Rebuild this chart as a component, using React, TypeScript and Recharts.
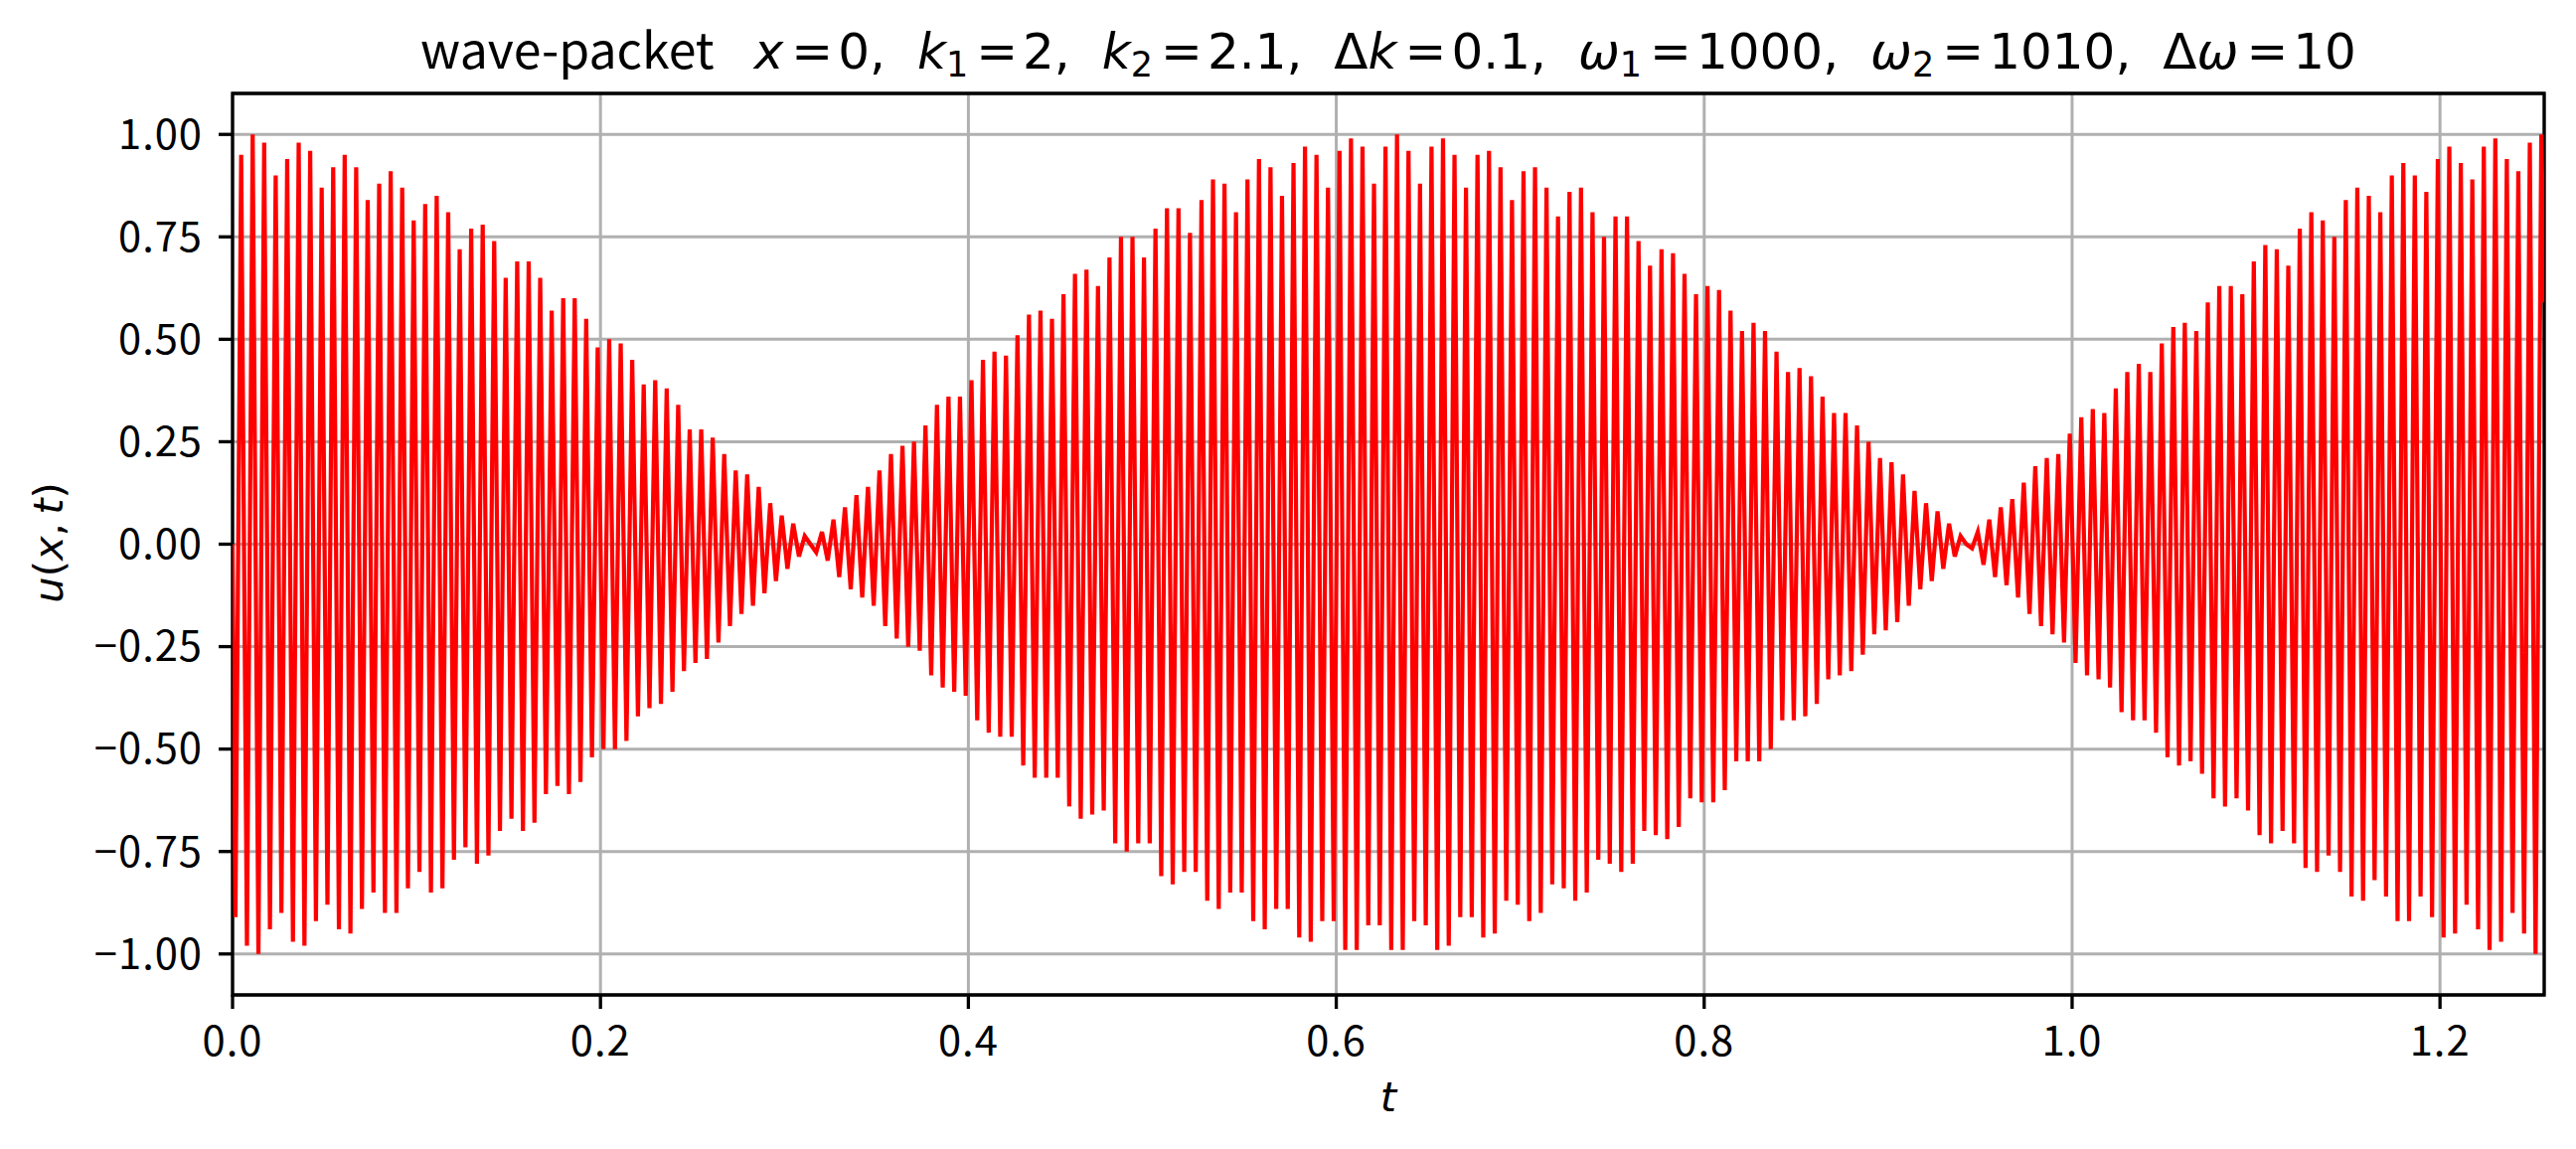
import { LineChart, Line, XAxis, YAxis, CartesianGrid, ReferenceArea } from 'recharts';

// Lobe 1: from t = 0 up to the first node (t ≈ 0.314)
const firstLobe = [
  -0.91, 0.95, -0.98, 1.0, -1.0, 0.98, -0.94, 0.9,
  -0.9, 0.94, -0.97, 0.98, -0.98, 0.96, -0.92, 0.87,
  -0.88, 0.92, -0.94, 0.95, -0.95, 0.92, -0.89, 0.84,
  -0.85, 0.88, -0.9, 0.91, -0.9, 0.87, -0.84, 0.79,
  -0.8, 0.83, -0.85, 0.85, -0.84, 0.81, -0.77, 0.72,
  -0.74, 0.77, -0.78, 0.78, -0.76, 0.74, -0.7, 0.65,
  -0.67, 0.69, -0.7, 0.69, -0.68, 0.65, -0.61, 0.57,
  -0.59, 0.6, -0.61, 0.6, -0.58, 0.55, -0.52, 0.48,
  -0.5, 0.5, -0.5, 0.49, -0.48, 0.45, -0.42, 0.39,
  -0.4, 0.4, -0.39, 0.38, -0.36, 0.34, -0.31, 0.28,
  -0.29, 0.28, -0.28, 0.26, -0.24, 0.22, -0.2, 0.18,
  -0.17, 0.17, -0.15, 0.14, -0.12, 0.1, -0.09, 0.07,
  -0.06, 0.05, -0.03, 0.02,
];

// Lobe 2: between the two nodes (t ≈ 0.314 .. 0.942)
const secondLobe = [
  0.0, -0.02, 0.03, -0.04,
  0.06, -0.08, 0.09, -0.11, 0.12, -0.13, 0.14, -0.15,
  0.18, -0.2, 0.22, -0.23, 0.24, -0.25, 0.25, -0.26,
  0.29, -0.32, 0.34, -0.35, 0.36, -0.36, 0.36, -0.37,
  0.4, -0.43, 0.45, -0.46, 0.47, -0.47, 0.46, -0.47,
  0.51, -0.54, 0.56, -0.57, 0.57, -0.57, 0.55, -0.57,
  0.61, -0.64, 0.66, -0.67, 0.67, -0.66, 0.63, -0.65,
  0.7, -0.73, 0.75, -0.75, 0.75, -0.73, 0.7, -0.73,
  0.77, -0.81, 0.82, -0.83, 0.82, -0.8, 0.76, -0.8,
  0.84, -0.87, 0.89, -0.89, 0.88, -0.85, 0.81, -0.85,
  0.89, -0.92, 0.94, -0.94, 0.92, -0.89, 0.85, -0.89,
  0.93, -0.96, 0.97, -0.97, 0.95, -0.92, 0.87, -0.92,
  0.96, -0.99, 0.99, -0.99, 0.97, -0.93, 0.88, -0.93,
  0.97, -0.99, 1.0, -0.99, 0.96, -0.92, 0.88, -0.93,
  0.97, -0.99, 0.99, -0.98, 0.95, -0.91, 0.87, -0.91,
  0.95, -0.96, 0.96, -0.95, 0.92, -0.87, 0.84, -0.88,
  0.91, -0.92, 0.92, -0.9, 0.87, -0.83, 0.8, -0.84,
  0.86, -0.87, 0.87, -0.85, 0.81, -0.77, 0.75, -0.78,
  0.8, -0.8, 0.8, -0.78, 0.74, -0.7, 0.68, -0.71,
  0.72, -0.72, 0.71, -0.69, 0.66, -0.62, 0.61, -0.63,
  0.63, -0.63, 0.62, -0.6, 0.57, -0.53, 0.52, -0.53,
  0.54, -0.53, 0.52, -0.5, 0.47, -0.43, 0.42, -0.43,
  0.43, -0.42, 0.41, -0.39, 0.36, -0.33, 0.32, -0.32,
  0.32, -0.31, 0.29, -0.27, 0.25, -0.22, 0.21, -0.21,
  0.2, -0.19, 0.17, -0.15, 0.13, -0.11, 0.1, -0.09,
  0.08, -0.06, 0.05, -0.03, 0.02,
];

// Lobe 3: from the second node (t ≈ 0.942) to the end
const thirdLobe = [
  0.0, -0.01, 0.03,
  -0.05, 0.06, -0.08, 0.09, -0.1, 0.11, -0.13, 0.15,
  -0.17, 0.19, -0.2, 0.21, -0.22, 0.22, -0.24, 0.27,
  -0.29, 0.31, -0.32, 0.33, -0.33, 0.32, -0.35, 0.38,
  -0.41, 0.42, -0.43, 0.44, -0.43, 0.42, -0.46, 0.49,
  -0.52, 0.53, -0.54, 0.54, -0.53, 0.52, -0.56, 0.59,
  -0.62, 0.63, -0.64, 0.63, -0.62, 0.61, -0.65, 0.69,
  -0.71, 0.73, -0.73, 0.72, -0.7, 0.68, -0.73, 0.77,
  -0.79, 0.81, -0.8, 0.79, -0.76, 0.75, -0.8, 0.84,
  -0.86, 0.87, -0.87, 0.85, -0.82, 0.81, -0.86, 0.9,
  -0.92, 0.93, -0.92, 0.9, -0.86, 0.86, -0.91, 0.94,
  -0.96, 0.97, -0.95, 0.93, -0.88, 0.89, -0.94, 0.97,
  -0.99, 0.99, -0.97, 0.94, -0.9, 0.91, -0.95, 0.98,
  -1.0, 1.0,
];

// value at t = 0 and at the right edge of the axis
const edgeValues = [0, 0.59];

const xTicks = [0, 0.2, 0.4, 0.6, 0.8, 1.0, 1.2];
const yTicks = [-1, -0.75, -0.5, -0.25, 0, 0.25, 0.5, 0.75, 1];

const titleTerms = [
  { delta: '', sym: 'x', sub: '', val: '0' },
  { delta: '', sym: 'k', sub: '1', val: '2' },
  { delta: '', sym: 'k', sub: '2', val: '2.1' },
  { delta: 'Δ', sym: 'k', sub: '', val: '0.1' },
  { delta: '', sym: 'ω', sub: '1', val: '1000' },
  { delta: '', sym: 'ω', sub: '2', val: '1010' },
  { delta: 'Δ', sym: 'ω', sub: '', val: '10' },
];

const OMEGA_MEAN = 1005; // (ω1 + ω2) / 2
const HALF_PERIOD = Math.PI / OMEGA_MEAN;
const T_MAX = 0.4 * Math.PI;

const TEXT_FONT = '"Noto Sans CJK JP", "Noto Sans", sans-serif';
const MATH_FONT = '"DejaVu Sans", sans-serif';
const TICK_SIZE = 41.7;

const extrema = [...firstLobe, ...secondLobe, ...thirdLobe];
const data = [
  { t: 0, u: edgeValues[0] },
  ...extrema.map((u, i) => ({ t: (i + 0.5) * HALF_PERIOD, u })),
  { t: T_MAX, u: edgeValues[1] },
];

const minus = (s: string) => s.replace('-', '\u2212');

function Overlay() {
  return (
    <svg
      width={2592}
      height={1156}
      style={{ position: 'absolute', left: 0, top: 0, pointerEvents: 'none' }}
    >
      {/* title */}
      <text
        x={1397}
        y={69}
        textAnchor="middle"
        fontSize={50}
        fill="#000"
        style={{ whiteSpace: 'pre' }}
      >
        <tspan fontFamily={TEXT_FONT}>wave-packet</tspan>
        {titleTerms.map((term, i) => (
          <tspan key={i} fontFamily={MATH_FONT} dx={i === 0 ? 40 : 32}>
            {term.delta && <tspan>{term.delta}</tspan>}
            <tspan fontStyle="italic">{term.sym}</tspan>
            {term.sub && (
              <tspan fontSize={35} dy={8}>
                {term.sub}
              </tspan>
            )}
            <tspan dx={8} dy={term.sub ? -8 : 0}>
              =
            </tspan>
            <tspan dx={5}>
              {`${term.val}${i < titleTerms.length - 1 ? ',' : ''}`}
            </tspan>
          </tspan>
        ))}
      </text>

      {/* x label */}
      <text
        x={1397}
        y={1118}
        textAnchor="middle"
        fontSize={TICK_SIZE}
        fontFamily={MATH_FONT}
        fontStyle="italic"
        fill="#000"
      >
        t
      </text>

      {/* y label */}
      <text
        transform="translate(63,546) rotate(-90)"
        textAnchor="middle"
        fontSize={TICK_SIZE}
        fontFamily={MATH_FONT}
        fill="#000"
        style={{ whiteSpace: 'pre' }}
      >
        <tspan fontStyle="italic">u</tspan>
        <tspan>(</tspan>
        <tspan fontStyle="italic">x</tspan>
        <tspan>{',\u2009'}</tspan>
        <tspan fontStyle="italic">t</tspan>
        <tspan>)</tspan>
      </text>
    </svg>
  );
}

export default function App() {
  return (
    <div
      style={{
        position: 'absolute',
        left: 0,
        top: 0,
        width: 2592,
        height: 1156,
        background: '#fff',
      }}
    >
      <LineChart
        width={2592}
        height={1156}
        data={data}
        margin={{ top: 94, right: 32, bottom: 35, left: 34 }}
      >
        <CartesianGrid stroke="#b0b0b0" strokeWidth={3} />
        <XAxis
          type="number"
          dataKey="t"
          domain={[0, T_MAX]}
          ticks={xTicks}
          interval={0}
          allowDataOverflow
          axisLine={false}
          tickLine={{ stroke: '#000', strokeWidth: 3.3 }}
          tickSize={14}
          tickMargin={17}
          height={120}
          tick={{ fill: '#000', fontSize: TICK_SIZE, fontFamily: TEXT_FONT, letterSpacing: 1 }}
          tickFormatter={(v: number) => v.toFixed(1)}
        />
        <YAxis
          type="number"
          domain={[-1.1, 1.1]}
          ticks={yTicks}
          interval={0}
          allowDataOverflow
          axisLine={false}
          tickLine={{ stroke: '#000', strokeWidth: 3.3 }}
          tickSize={14}
          tickMargin={16}
          width={200}
          tick={{ fill: '#000', fontSize: TICK_SIZE, fontFamily: TEXT_FONT, letterSpacing: 1 }}
          tickFormatter={(v: number) => minus(v.toFixed(2))}
        />
        <Line
          type="linear"
          dataKey="u"
          stroke="#ff0000"
          strokeWidth={4.2}
          dot={false}
          activeDot={false}
          isAnimationActive={false}
        />
        <ReferenceArea
          x1={0}
          x2={T_MAX}
          y1={-1.1}
          y2={1.1}
          fill="none"
          stroke="#000"
          strokeWidth={3.3}
          ifOverflow="visible"
        />
      </LineChart>
      <Overlay />
    </div>
  );
}
